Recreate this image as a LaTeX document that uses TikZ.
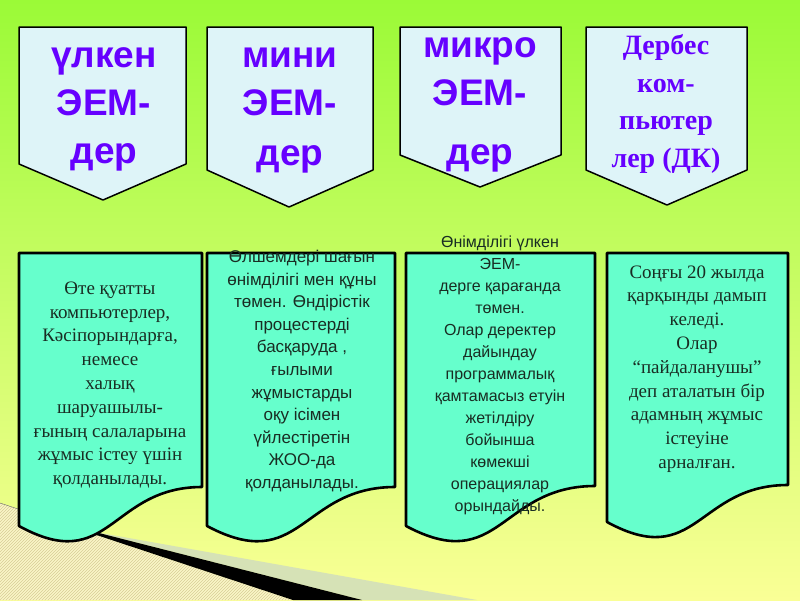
\documentclass[tikz,border=0pt]{standalone}
\usepackage{fontspec}
\setmainfont{Liberation Serif}
\setsansfont{Liberation Sans}
\usepackage{tikz}
\usetikzlibrary{patterns}
\definecolor{headfill}{RGB}{222,244,248}
\definecolor{docfill}{RGB}{102,255,204}
\definecolor{titleviolet}{RGB}{102,0,255}
\definecolor{bodyink}{RGB}{25,45,35}
\definecolor{bgtop}{RGB}{155,250,55}
\definecolor{bgbottom}{RGB}{250,255,150}
\definecolor{hatchfill}{RGB}{250,246,200}
\definecolor{hatchline}{RGB}{215,205,150}
\definecolor{greyband}{RGB}{214,226,182}

\begin{document}
\begin{tikzpicture}[x=1pt, y=-1pt,
    head/.style = {draw, line width=1.5pt, line join=round, fill=headfill},
    doc/.style = {draw, line width=2.6pt, line join=round, fill=docfill},
    title/.style = {text=titleviolet, align=center, inner sep=0pt,
        font=\sffamily\bfseries\fontsize{37}{48}\selectfont},
    body/.style = {text=bodyink, align=center, inner sep=0pt}]
    % Background

    \useasboundingbox (0,0) rectangle (800,600);
    \shade[top color=bgtop, bottom color=bgbottom] (0,0) rectangle (800,600);
    \fill[hatchfill] (0,503) -- (293,600) -- (0,600) -- cycle;
    \fill[pattern=north east lines, pattern color=hatchline] (0,503) -- (293,600) -- (0,600) -- cycle;
    \draw[thin, black!60] (0,503) -- (95,534.5);
    \fill[greyband] (95,532) -- (477,600) -- (362,600) -- cycle;
    \fill[black] (95,532) -- (362,600) -- (293,600) -- (95,534.5) -- cycle;

    % Heads

    \draw[head] (19,27) -- (186,27) -- (186,164) -- (103,200) -- (19,164) -- cycle;
    \draw[head] (207,27) -- (373,27) -- (373,170) -- (289,207) -- (207,170) -- cycle;
    \draw[head] (400,27) -- (561,27) -- (561,155) -- (480,187) -- (400,155) -- cycle;
    \draw[head] (586,27) -- (747,27) -- (747,170) -- (667,205) -- (586,170) -- cycle;

    \node[title] (h1) at (104,109) {үлкен\\ЭЕМ-\\дер};
    \node[title] (h2) at (290,111) {мини\\ЭЕМ-\\[2pt]дер};
    \node[title] (h3) at (480,105) {микро\\ЭЕМ-\\[11pt]дер};
    \node[title, font=\rmfamily\bfseries\fontsize{28}{37.8}\selectfont] (h4) at (666,104)
        {Дербес\\ком-\\пьютер\\лер (ДК)};

    % Documents

    \draw[doc] (19,253) -- (202,253) -- (202,487) .. controls (110,487) and (110,576) .. (19,526) -- cycle;
    \draw[doc] (207,253) -- (395,253) -- (395,487) .. controls (301,487) and (301,576) .. (207,526) -- cycle;
    \draw[doc] (406,253) -- (595,253) -- (595,486) .. controls (500,486) and (500,576) .. (406,526) -- cycle;
    \draw[doc] (607,253) -- (788,253) -- (788,485) .. controls (697,485) and (697,571) .. (607,522) -- cycle;

    \node[body, font=\fontsize{19}{23.8}\selectfont] (d1) at (110,385)
        {Өте қуатты\\компьютерлер,\\Кәсіпорындарға,\\немесе\\халық\\шаруашылы-\\ғының салаларына\\жұмыс істеу үшін\\қолданылады.};
    \node[body, font=\sffamily\fontsize{17}{22.6}\selectfont] (d2) at (302,371)
        {Өлшемдері шағын\\өнімділігі мен құны\\төмен. Өндірістік\\процестерді\\басқаруда ,\\ғылыми\\жұмыстарды\\оқу ісімен\\үйлестіретін\\ЖОО-да\\қолданылады.};
    \node[body, font=\sffamily\fontsize{16}{22}\selectfont] (d3) at (500,375)
        {Өнімділігі үлкен\\ЭЕМ-\\дерге қарағанда\\төмен.\\Олар деректер\\дайындау\\программалық\\қамтамасыз етуін\\жетілдіру\\бойынша\\көмекші\\операциялар\\орындайды.};
    \node[body, font=\fontsize{19}{23.8}\selectfont] (d4) at (697,369)
        {Соңғы 20 жылда\\қарқынды дамып\\келеді.\\Олар\\“пайдаланушы”\\деп аталатын бір\\адамның жұмыс\\істеуіне\\арналған.};

\end{tikzpicture}
\end{document}
